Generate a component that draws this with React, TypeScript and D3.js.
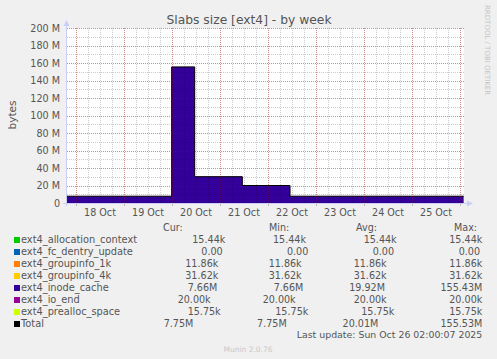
import React from "react";
import * as d3 from "d3";

const W = 497;
const H = 359;
const PLOT = { left: 67, right: 464, top: 28, bottom: 203 };

const TITLE = "Slabs size [ext4] - by week";
const Y_LABEL = "bytes";
const WATERMARK = "RRDTOOL / TOBI OETIKER";
const FOOTER = "Munin 2.0.76";
const LAST_UPDATE = "Last update: Sun Oct 26 02:00:07 2025";

const SERIES = [
  "ext4_allocation_context",
  "ext4_fc_dentry_update",
  "ext4_groupinfo_1k",
  "ext4_groupinfo_4k",
  "ext4_inode_cache",
  "ext4_io_end",
  "ext4_prealloc_space",
];
const COLORS = ["#00CC00", "#0066B3", "#FF8000", "#FFCC00", "#330099", "#990099", "#CCFF00"];
const CONST_VALUES = [15440, 0, 11860, 31620, 0, 20000, 15750];

// step change times and inode cache values (step after)
const TIMES = [
  new Date(2025, 9, 17, 19, 30),
  new Date(2025, 9, 19, 23, 50),
  new Date(2025, 9, 20, 11, 20),
  new Date(2025, 9, 21, 11, 10),
  new Date(2025, 9, 22, 11, 0),
  new Date(2025, 9, 26, 1, 50),
];
const INODE = [7.66e6, 155.43e6, 30.0e6, 19.9e6, 7.66e6, 7.66e6];

const DOMAIN_START = new Date(2025, 9, 17, 19, 30);
const DOMAIN_END = new Date(2025, 9, 26, 2, 0);

const Y_TICKS = [0, 20e6, 40e6, 60e6, 80e6, 100e6, 120e6, 140e6, 160e6, 180e6, 200e6];

const LEGEND_NAMES = [...SERIES, "Total"];
const LEGEND_COLORS = [...COLORS, "#000000"];
const CUR = ["15.44k", "0.00", "11.86k", "31.62k", "7.66M", "20.00k", "15.75k", "7.75M"];
const MIN = ["15.44k", "0.00", "11.86k", "31.62k", "7.66M", "20.00k", "15.75k", "7.75M"];
const AVG = ["15.44k", "0.00", "11.86k", "31.62k", "19.92M", "20.00k", "15.75k", "20.01M"];
const MAX = ["15.44k", "0.00", "11.86k", "31.62k", "155.43M", "20.00k", "15.75k", "155.53M"];
const HEADERS = ["Cur:", "Min:", "Avg:", "Max:"];

// layout: right edge of each legend value cell (rrdtool padding in proportional font)
const COL_END = [
  [225.3, 306, 396.7, 482.3],
  [222.7, 308.3, 394, 480],
  [218.3, 301.7, 386.7, 482.3],
  [218.3, 301.7, 386.7, 482.3],
  [217.3, 303.3, 385, 482.3],
  [210.7, 295.7, 386.7, 482.3],
  [220.7, 308.3, 394.3, 482.3],
  [193.3, 286.7, 378.3, 482.3],
];
const HEADER_X = [163, 269, 356, 454];

const FONT = "DejaVu Sans, sans-serif";
const TEXT = "#555555";

function fmtY(v: number) {
  return v === 0 ? "0" : `${v / 1e6} M`;
}

export default function App() {
  const x = d3.scaleTime().domain([DOMAIN_START, DOMAIN_END]).range([PLOT.left, PLOT.right]);
  const y = d3.scaleLinear().domain([0, 200e6]).range([PLOT.bottom, PLOT.top]);

  const rows = TIMES.map((t, i) => {
    const r: any = { t };
    SERIES.forEach((s, j) => {
      r[s] = s === "ext4_inode_cache" ? INODE[i] : CONST_VALUES[j];
    });
    return r;
  });
  const stacked = d3.stack<any>().keys(SERIES)(rows);
  const area = d3
    .area<any>()
    .x((d) => x(d.data.t))
    .y0((d) => y(d[0]))
    .y1((d) => y(d[1]))
    .curve(d3.curveStepAfter);
  const totalLine = d3
    .line<any>()
    .x((d) => x(d.t))
    .y((d) => y(SERIES.reduce((a, s) => a + d[s], 0)))
    .curve(d3.curveStepAfter);

  const majorX = d3.timeDay.range(DOMAIN_START, DOMAIN_END);
  const minorX = d3.timeHour.every(6)!.range(DOMAIN_START, DOMAIN_END);
  const labelX = d3.timeDay.range(new Date(2025, 9, 18), new Date(2025, 9, 26)).map((d) => d3.timeHour.offset(d, 12));
  const minorY = d3.range(0, 200e6 + 1, 10e6);
  const fmtDay = d3.timeFormat("%d %b");

  const gridMinor = "rgba(0,0,0,0.2)";
  const gridMajor = "rgba(215,0,0,0.32)";
  const axisCol = "#c8cef5";

  return (
    <svg width={W} height={H} style={{ position: "absolute", left: 0, top: 0, display: "block" }} fontFamily={FONT}>
      <rect x={0} y={0} width={W} height={H} fill="#F0F0F0" />
      <rect x={PLOT.left} y={PLOT.top} width={PLOT.right - PLOT.left} height={PLOT.bottom - PLOT.top} fill="#FFFFFF" />

      {stacked.map((s, i) => (
        <path key={s.key} d={area(s) || ""} fill={COLORS[i]} />
      ))}
      <path d={totalLine(rows) || ""} fill="none" stroke="#000" strokeWidth={1} />

      {/* grid */}
      <g strokeDasharray="1 1" strokeWidth={1} shapeRendering="crispEdges">
        {minorX.map((d, i) => (
          <line key={"mx" + i} x1={Math.round(x(d)) + 0.5} x2={Math.round(x(d)) + 0.5} y1={PLOT.top} y2={PLOT.bottom} stroke={gridMinor} />
        ))}
        {minorY.map((v, i) => (
          <line key={"my" + i} x1={PLOT.left} x2={PLOT.right} y1={Math.round(y(v)) + 0.5} y2={Math.round(y(v)) + 0.5} stroke={gridMinor} />
        ))}
        {majorX.map((d, i) => (
          <line key={"Mx" + i} x1={Math.round(x(d)) + 0.5} x2={Math.round(x(d)) + 0.5} y1={PLOT.top} y2={PLOT.bottom} stroke={gridMajor} />
        ))}
        {Y_TICKS.map((v, i) => (
          <line key={"My" + i} x1={PLOT.left} x2={PLOT.right} y1={Math.round(y(v)) + 0.5} y2={Math.round(y(v)) + 0.5} stroke={gridMajor} />
        ))}
      </g>

      {/* axes */}
      <line x1={PLOT.left - 0.5} x2={PLOT.left - 0.5} y1={PLOT.bottom + 3} y2={PLOT.top - 5} stroke={axisCol} />
      <path d={`M${PLOT.left - 3.5},${PLOT.top - 2} L${PLOT.left - 0.5},${PLOT.top - 8} L${PLOT.left + 2.5},${PLOT.top - 2} Z`} fill={axisCol} />
      <line x1={PLOT.left - 4} x2={PLOT.right + 4} y1={PLOT.bottom + 0.5} y2={PLOT.bottom + 0.5} stroke={axisCol} />
      <path d={`M${PLOT.right + 3},${PLOT.bottom - 2.5} L${PLOT.right + 9},${PLOT.bottom + 0.5} L${PLOT.right + 3},${PLOT.bottom + 3.5} Z`} fill={axisCol} />
      {majorX.map((d, i) => (
        <line key={"tk" + i} x1={Math.round(x(d)) + 0.5} x2={Math.round(x(d)) + 0.5} y1={PLOT.bottom + 1} y2={PLOT.bottom + 3} stroke="#bbb" />
      ))}

      {/* y labels */}
      {Y_TICKS.map((v) => (
        <text key={"yl" + v} x={60} y={y(v) + 3.5} textAnchor="end" fontSize={9.6} fill={TEXT}>
          {fmtY(v)}
        </text>
      ))}
      {/* x labels */}
      {labelX.map((d, i) => (
        <text key={"xl" + i} x={x(d)} y={215.5} textAnchor="middle" fontSize={9.6} fill={TEXT}>
          {fmtDay(d)}
        </text>
      ))}

      <text x={249} y={24} textAnchor="middle" fontSize={12.3} fill={TEXT}>
        {TITLE}
      </text>
      <text transform="translate(15.5,115) rotate(-90)" textAnchor="middle" fontSize={10.5} fill={TEXT}>
        {Y_LABEL}
      </text>
      <text transform="translate(485,5) rotate(90)" textAnchor="start" fontSize={7} fill="#c4c4c4">
        {WATERMARK}
      </text>

      {/* legend */}
      {HEADERS.map((h, i) => (
        <text key={h} x={HEADER_X[i]} y={231} fontSize={9.6} fill={TEXT}>
          {h}
        </text>
      ))}
      {LEGEND_NAMES.map((n, i) => {
        const by = 242.5 + 12 * i;
        const vals = [CUR[i], MIN[i], AVG[i], MAX[i]];
        return (
          <g key={n}>
            <rect x={14} y={by - 5.5} width={6} height={6} fill={LEGEND_COLORS[i]} />
            <text x={21} y={by} fontSize={9.8} fill={TEXT}>
              {n}
            </text>
            {vals.map((v, j) => (
              <text key={j} x={COL_END[i][j]} y={by} textAnchor="end" fontSize={9.6} fill={TEXT}>
                {v}
              </text>
            ))}
          </g>
        );
      })}
      <text x={482.3} y={338} textAnchor="end" fontSize={9.4} fill={TEXT}>
        {LAST_UPDATE}
      </text>
      <text x={248} y={351.5} textAnchor="middle" fontSize={7.5} fill="#c8c8c8">
        {FOOTER}
      </text>
    </svg>
  );
}
